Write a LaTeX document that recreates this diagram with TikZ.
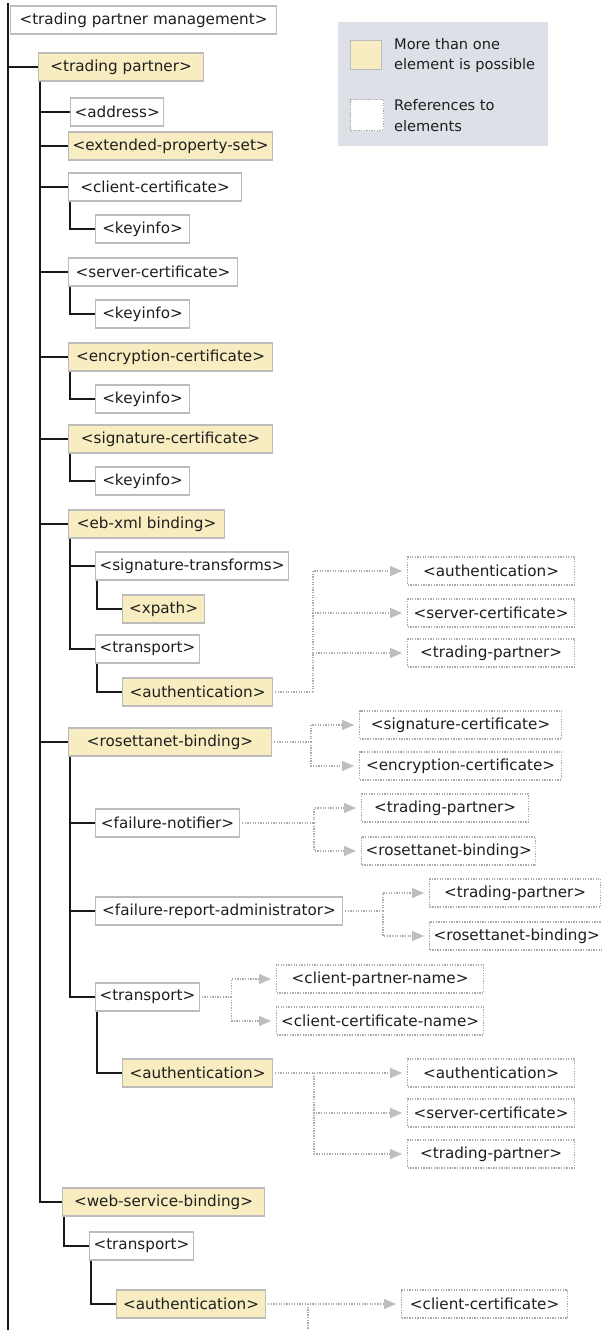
\documentclass[tikz,border=0pt]{standalone}
\usepackage{fontspec}
\setmainfont{DejaVu Sans}
\usetikzlibrary{arrows.meta}

\definecolor{multiyellow}{RGB}{247,237,192}
\definecolor{boxgray}{RGB}{188,188,188}
\definecolor{refgray}{RGB}{170,170,170}
\definecolor{trigray}{RGB}{190,190,190}
\definecolor{keybg}{RGB}{221,224,231}
\definecolor{treeblack}{RGB}{25,25,25}
\definecolor{txt}{RGB}{30,30,30}

\begin{document}
\begin{tikzpicture}[x=1pt,y=-1pt,
    font=\fontsize{15.2}{20}\selectfont,
    elem/.style={draw=boxgray,line width=1.1pt,fill=white,anchor=west,
      minimum height=28pt,inner xsep=4pt,text=txt},
    multi/.style={elem,fill=multiyellow},
    refbox/.style={draw=refgray,line width=1.2pt,dash pattern=on 1.3pt off 1.3pt,
      fill=white,anchor=west,minimum height=28pt,inner xsep=4pt,text=txt},
    tree/.style={draw=treeblack,line width=2.2pt},
    refline/.style={draw=refgray,line width=1.3pt,dash pattern=on 1.3pt off 1.3pt},
    refarrow/.style={-{Triangle[length=12pt,width=10pt,color=trigray]},shorten >=5pt}]
  \useasboundingbox[fill=white] (0,0) rectangle (602,1330);

  % key
  \node[fill=keybg,anchor=north west,minimum width=210pt,minimum height=124pt] (key) at (338,22) {};
  \node[multi,anchor=north west,minimum width=31pt,minimum height=29pt] (k1) at (350,40) {};
  \node[anchor=west,align=left,text=txt,inner sep=0pt,font=\fontsize{14.6}{20}\selectfont] (k1t) at (394,55) {More than one\\element is possible};
  \node[refbox,anchor=north west,minimum width=33pt,minimum height=31pt] (k2) at (350,99) {};
  \node[anchor=west,align=left,text=txt,inner sep=0pt,font=\fontsize{14.6}{21}\selectfont] (k2t) at (394,116) {References to\\elements};

  % elements
  \node[elem,minimum width=266pt] (1) at (10,20) {<trading partner management>};
  \node[multi,minimum width=165pt] (2) at (38,67) {<trading partner>};
  \node[elem,minimum width=91pt] (3) at (70,112) {<address>};
  \node[multi,minimum width=203pt] (4) at (68,146) {<extended-property-set>};
  \node[elem,minimum width=173pt] (5) at (68,187) {<client-certificate>};
  \node[elem,minimum width=94pt] (6) at (95,229) {<keyinfo>};
  \node[elem,minimum width=169pt] (7) at (68,272) {<server-certificate>};
  \node[elem,minimum width=94pt] (8) at (95,314) {<keyinfo>};
  \node[multi,minimum width=204pt] (9) at (68,357) {<encryption-certificate>};
  \node[elem,minimum width=94pt] (10) at (95,399) {<keyinfo>};
  \node[multi,minimum width=204pt] (11) at (68,439) {<signature-certificate>};
  \node[elem,minimum width=94pt] (12) at (95,481) {<keyinfo>};
  \node[multi,minimum width=156pt] (13) at (68,524) {<eb-xml binding>};
  \node[elem,minimum width=189pt] (14) at (95,566) {<signature-transforms>};
  \node[multi,minimum width=82pt] (15) at (122,609) {<xpath>};
  \node[elem,minimum width=102pt] (16) at (95,649) {<transport>};
  \node[multi,minimum width=150pt] (17) at (122,692) {<authentication>};
  \node[multi,minimum width=203pt] (18) at (68,742) {<rosettanet-binding>};
  \node[elem,minimum width=144pt] (19) at (95,823) {<failure-notifier>};
  \node[elem,minimum width=247pt] (20) at (95,911) {<failure-report-administrator>};
  \node[elem,minimum width=101pt] (21) at (95,997) {<transport>};
  \node[multi,minimum width=150pt] (22) at (122,1073) {<authentication>};
  \node[multi,minimum width=202pt] (23) at (62,1202) {<web-service-binding>};
  \node[elem,minimum width=100pt] (24) at (89,1246) {<transport>};
  \node[multi,minimum width=149pt] (25) at (116,1304) {<authentication>};

  % references
  \node[refbox,minimum width=167pt] (17a) at (407,571) {<authentication>};
  \node[refbox,minimum width=167pt] (17b) at (407,613) {<server-certificate>};
  \node[refbox,minimum width=167pt] (17c) at (407,653) {<trading-partner>};
  \node[refbox,minimum width=202pt] (18a) at (359,725) {<signature-certificate>};
  \node[refbox,minimum width=202pt] (18b) at (359,766) {<encryption-certificate>};
  \node[refbox,minimum width=167pt] (19a) at (361,808) {<trading-partner>};
  \node[refbox,minimum width=167pt] (19b) at (361,851) {<rosettanet-binding>};
  \node[refbox,minimum width=171pt] (20a) at (429,893) {<trading-partner>};
  \node[refbox,minimum width=171pt] (20b) at (429,936) {<rosettanet-binding>};
  \node[refbox,minimum width=207pt] (21a) at (276,979) {<client-partner-name>};
  \node[refbox,minimum width=207pt] (21b) at (276,1021) {<client-certificate-name>};
  \node[refbox,minimum width=167pt] (22a) at (407,1073) {<authentication>};
  \node[refbox,minimum width=167pt] (22b) at (407,1113) {<server-certificate>};
  \node[refbox,minimum width=167pt] (22c) at (407,1154) {<trading-partner>};
  \node[refbox,minimum width=166pt] (25a) at (401,1304) {<client-certificate>};

  % tree
  \coordinate (top) at (8,3);
  \coordinate (bottom) at (8,1330);
  \draw[tree] (top) -- (bottom);
  \draw[tree] (2.west -| top) -- (2.west);
  \foreach \n in {3,4,5,7,9,11,13,18,23}
    \draw[tree] ([xshift=2pt]2.south west) |- (\n.west);
  \draw[tree] ([xshift=2pt]5.south west) |- (6.west);
  \draw[tree] ([xshift=2pt]7.south west) |- (8.west);
  \draw[tree] ([xshift=2pt]9.south west) |- (10.west);
  \draw[tree] ([xshift=2pt]11.south west) |- (12.west);
  \draw[tree] ([xshift=2pt]13.south west) |- (14.west);
  \draw[tree] ([xshift=2pt]13.south west) |- (16.west);
  \draw[tree] ([xshift=2pt]14.south west) |- (15.west);
  \draw[tree] ([xshift=2pt]16.south west) |- (17.west);
  \foreach \n in {19,20,21}
    \draw[tree] ([xshift=2pt]18.south west) |- (\n.west);
  \draw[tree] ([xshift=2pt]21.south west) |- (22.west);
  \draw[tree] ([xshift=2pt]23.south west) |- (24.west);
  \draw[tree] ([xshift=2pt]24.south west) |- (25.west);

  % reference links
  \coordinate (17j) at ([xshift=40pt]17.east);
  \draw[refline] ([xshift=2pt]17.east) -- (17j);
  \foreach \r in {17a,17b,17c}
    \draw[refline,refarrow] (17j) |- (\r.west);

  \coordinate (18j) at ([xshift=39pt]18.east);
  \draw[refline] ([xshift=2pt]18.east) -- (18j);
  \foreach \r in {18a,18b}
    \draw[refline,refarrow] (18j) |- (\r.west);

  \coordinate (19j) at ([xshift=74pt]19.east);
  \draw[refline] ([xshift=2pt]19.east) -- (19j);
  \foreach \r in {19a,19b}
    \draw[refline,refarrow] (19j) |- (\r.west);

  \coordinate (20j) at ([xshift=40pt]20.east);
  \draw[refline] ([xshift=2pt]20.east) -- (20j);
  \foreach \r in {20a,20b}
    \draw[refline,refarrow] (20j) |- (\r.west);

  \coordinate (21j) at ([xshift=32pt]21.east);
  \draw[refline] ([xshift=2pt]21.east) -- (21j);
  \foreach \r in {21a,21b}
    \draw[refline,refarrow] (21j) |- (\r.west);

  \coordinate (22j) at ([xshift=41pt]22.east);
  \draw[refline,refarrow] ([xshift=2pt]22.east) -- (22a.west);
  \foreach \r in {22b,22c}
    \draw[refline,refarrow] (22j) |- (\r.west);

  \coordinate (25j) at ([xshift=42pt]25.east);
  \draw[refline,refarrow] ([xshift=2pt]25.east) -- (25a.west);
  \draw[refline] (25j) -- (25j |- bottom);
\end{tikzpicture}
\end{document}
